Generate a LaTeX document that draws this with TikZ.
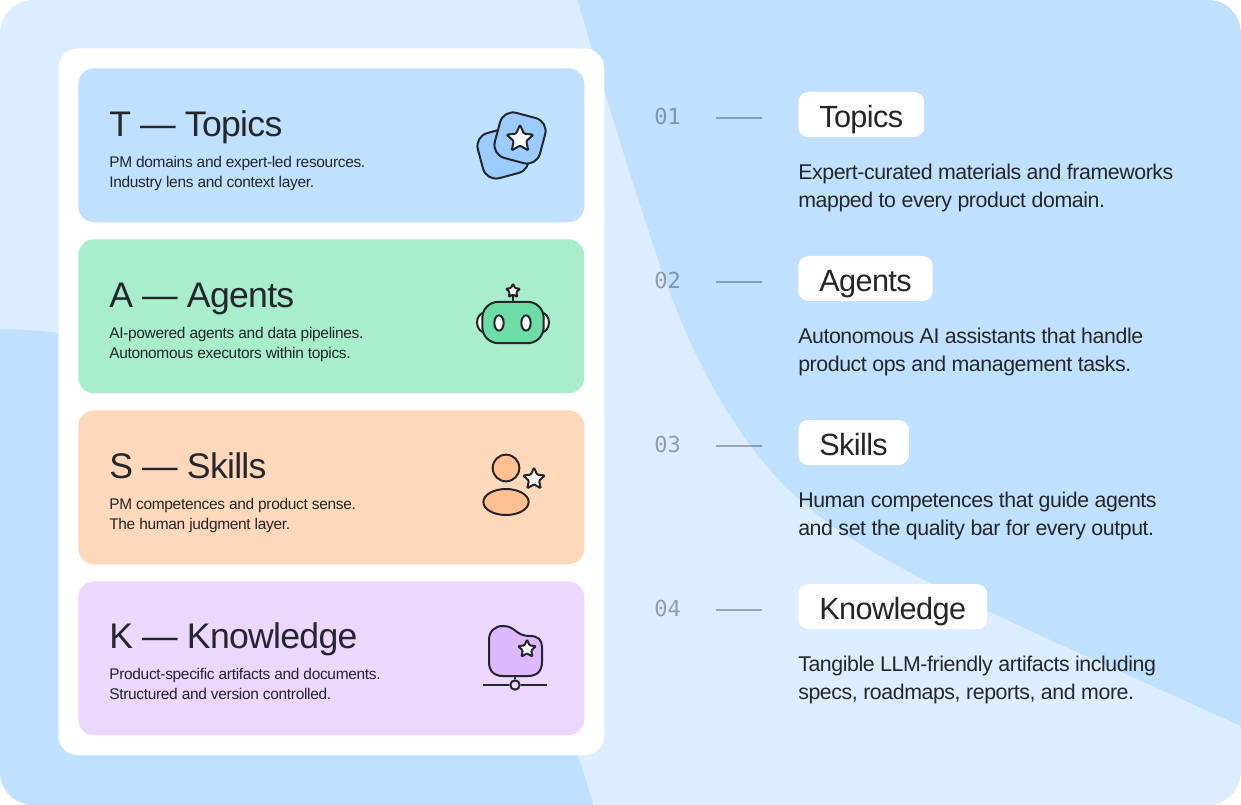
\documentclass[tikz,border=0pt]{standalone}
\usepackage{fontspec}
\usetikzlibrary{shapes.geometric}
\setmainfont{Liberation Sans}
\newfontfamily\monofam{DejaVu Sans Mono}
\newfontfamily\tightfam[LetterSpace=-2.0]{Liberation Sans}
\definecolor{bglight}{HTML}{DCEDFF}
\definecolor{bgdark}{HTML}{C0E0FF}
\definecolor{inkc}{HTML}{242629}
\definecolor{cardblue}{HTML}{C0E0FF}
\definecolor{cardgreen}{HTML}{A8EDCC}
\definecolor{cardorange}{HTML}{FFD8BC}
\definecolor{cardpurple}{HTML}{EBD7FF}
\definecolor{iconblue}{HTML}{9CCBFF}
\definecolor{icongreen}{HTML}{6EDCA6}
\definecolor{iconorange}{HTML}{FFBF90}
\definecolor{iconpurple}{HTML}{DDB8FF}
\tikzset{
  card/.style={fill=#1,rounded corners=12pt,minimum width=379.5pt,minimum height=115.5pt,inner sep=0pt,anchor=north west},
  bigtitle/.style={font=\tightfam\fontsize{26.7}{26.7}\selectfont,text=inkc,anchor=base west,inner sep=0pt},
  subtext/.style={font=\tightfam\fontsize{11.6}{15}\selectfont,text=inkc,align=left,anchor=north west,inner sep=0pt},
  tagbox/.style={fill=white,rounded corners=7.5pt,minimum height=33.75pt,inner xsep=15.75pt,inner ysep=0pt,anchor=west,text=inkc,text height=22pt,text depth=2pt,font=\tightfam\fontsize{23}{23}\selectfont},
  desc/.style={font=\tightfam\fontsize{16}{21}\selectfont,text=inkc,align=left,anchor=north west,inner sep=0pt},
  numtext/.style={font=\monofam\fontsize{16.5}{16.5}\selectfont,text=inkc,opacity=0.4,anchor=west,inner sep=0pt},
  dashline/.style={draw=inkc,opacity=0.35,line width=1.7pt},
  icon/.style={draw=inkc,line width=1.5pt},
  starmark/.style={star,star points=5,star point ratio=2.1,draw=inkc,fill=white,line width=1.5pt,inner sep=0pt,rounded corners=0.8pt,minimum size=#1},
  squaremark/.style={icon,fill=iconblue,rounded corners=10pt,minimum size=35pt,inner sep=0pt}
}
\begin{document}
\begin{tikzpicture}[x=0.75pt,y=-0.75pt]
\useasboundingbox (0,0) rectangle (1241,805);
% background
\begin{scope}
\clip[rounded corners=25pt] (0,0) rectangle (1241,805);
\fill[bglight] (0,0) rectangle (1241,805);
\fill[bgdark] (577,-2) .. controls (605,95) and (630,175) .. (650,235)
  .. controls (680,330) and (715,405) .. (770,470)
  .. controls (840,550) and (940,590) .. (1241,726)
  -- (1245,-2) -- cycle;
\fill[bgdark] (-2,329) .. controls (40,329) and (80,335) .. (120,345)
  -- (520,600) .. controls (560,700) and (580,760) .. (594,807) -- (-2,807) -- cycle;
\end{scope}
% left panel
\node[fill=white,rounded corners=15pt,minimum width=409.5pt,minimum height=530.25pt,inner sep=0pt,anchor=north west] (panel) at (58,48) {};
\node[card=cardblue] (cardT) at (78,68) {};
\node[card=cardgreen] (cardA) at (78,239) {};
\node[card=cardorange] (cardS) at (78,410) {};
\node[card=cardpurple] (cardK) at (78,581) {};
\node[bigtitle] (titleT) at (109,137) {T — Topics};
\node[bigtitle] (titleA) at (109,307.5) {A — Agents};
\node[bigtitle] (titleS) at (109,478.5) {S — Skills};
\node[bigtitle] (titleK) at (109,648.5) {K — Knowledge};
\node[subtext] (subT) at (109,156.5) {PM domains and expert-led resources.\\Industry lens and context layer.};
\node[subtext] (subA) at (109,327.5) {AI-powered agents and data pipelines.\\Autonomous executors within topics.};
\node[subtext] (subS) at (109,498.5) {PM competences and product sense.\\The human judgment layer.};
\node[subtext] (subK) at (109,668.5) {Product-specific artifacts and documents.\\Structured and version controlled.};
% topics icon
\node[squaremark,rotate=15] (backsq) at (503,153) {};
\node[squaremark,rotate=-15] (frontsq) at (520,138) {};
\node[starmark=21pt] (starT) at (520,139) {};
% agents icon
\node[icon,fill=white,ellipse,minimum width=12pt,minimum height=15pt,inner sep=0pt] (earL) at (485,322.5) {};
\node[icon,fill=white,ellipse,minimum width=12pt,minimum height=15pt,inner sep=0pt] (earR) at (541,322.5) {};
\node[icon,fill=icongreen,rounded corners=12pt,minimum width=46pt,minimum height=31pt,inner sep=0pt] (robot) at (513,322.5) {};
\node[icon,fill=white,ellipse,minimum width=7pt,minimum height=11.5pt,inner sep=0pt] (eyeL) at (499,323) {};
\node[icon,fill=white,ellipse,minimum width=7pt,minimum height=11.5pt,inner sep=0pt] (eyeR) at (526,323) {};
\node[starmark=11pt] (starA) at (513,291) {};
\draw[icon] (robot.north) -- (starA);
% skills icon
\node[icon,fill=iconorange,circle,minimum size=20pt,inner sep=0pt] (head) at (506,468) {};
\node[icon,fill=iconorange,ellipse,minimum width=34pt,minimum height=19.5pt,inner sep=0pt] (torso) at (506,502) {};
\node[starmark=17pt] (starS) at (534,479) {};
% knowledge icon
\draw[icon,fill=iconpurple] (489,640) .. controls (489,631) and (495,626) .. (503,626)
  .. controls (516,626) and (515,636) .. (530,636)
  .. controls (538,636) and (542,640) .. (542,647) -- (542,662)
  .. controls (542,671) and (537,676) .. (528,676) -- (503,676)
  .. controls (494,676) and (489,671) .. (489,662) -- cycle;
\coordinate (railL) at (483,685);
\coordinate (railR) at (547,685);
\coordinate (stemtop) at (515,676);
\node[icon,fill=cardpurple,circle,minimum size=7pt,inner sep=0pt] (railhub) at (515,685) {};
\draw[icon] (railL) -- (railhub);
\draw[icon] (railhub) -- (railR);
\draw[icon] (stemtop) -- (railhub);
\node[starmark=14pt] (starK) at (527,649) {};
% right column
\node[numtext] (numT) at (654,116) {01};
\node[numtext] (numA) at (654,280) {02};
\node[numtext] (numS) at (654,444) {03};
\node[numtext] (numK) at (654,608) {04};
\coordinate (dashTa) at (716,118);
\coordinate (dashTb) at (762,118);
\coordinate (dashAa) at (716,282);
\coordinate (dashAb) at (762,282);
\coordinate (dashSa) at (716,446);
\coordinate (dashSb) at (762,446);
\coordinate (dashKa) at (716,610);
\coordinate (dashKb) at (762,610);
\draw[dashline] (dashTa) -- (dashTb);
\draw[dashline] (dashAa) -- (dashAb);
\draw[dashline] (dashSa) -- (dashSb);
\draw[dashline] (dashKa) -- (dashKb);
\node[tagbox] (tagT) at (798,114.5) {Topics};
\node[tagbox] (tagA) at (798,278.5) {Agents};
\node[tagbox] (tagS) at (798,442.5) {Skills};
\node[tagbox] (tagK) at (798,606.5) {Knowledge};
\node[desc] (descT) at (798,164) {Expert-curated materials and frameworks\\mapped to every product domain.};
\node[desc] (descA) at (798,328) {Autonomous AI assistants that handle\\product ops and management tasks.};
\node[desc] (descS) at (798,492) {Human competences that guide agents\\and set the quality bar for every output.};
\node[desc] (descK) at (798,656) {Tangible LLM-friendly artifacts including\\specs, roadmaps, reports, and more.};
\end{tikzpicture}
\end{document}
